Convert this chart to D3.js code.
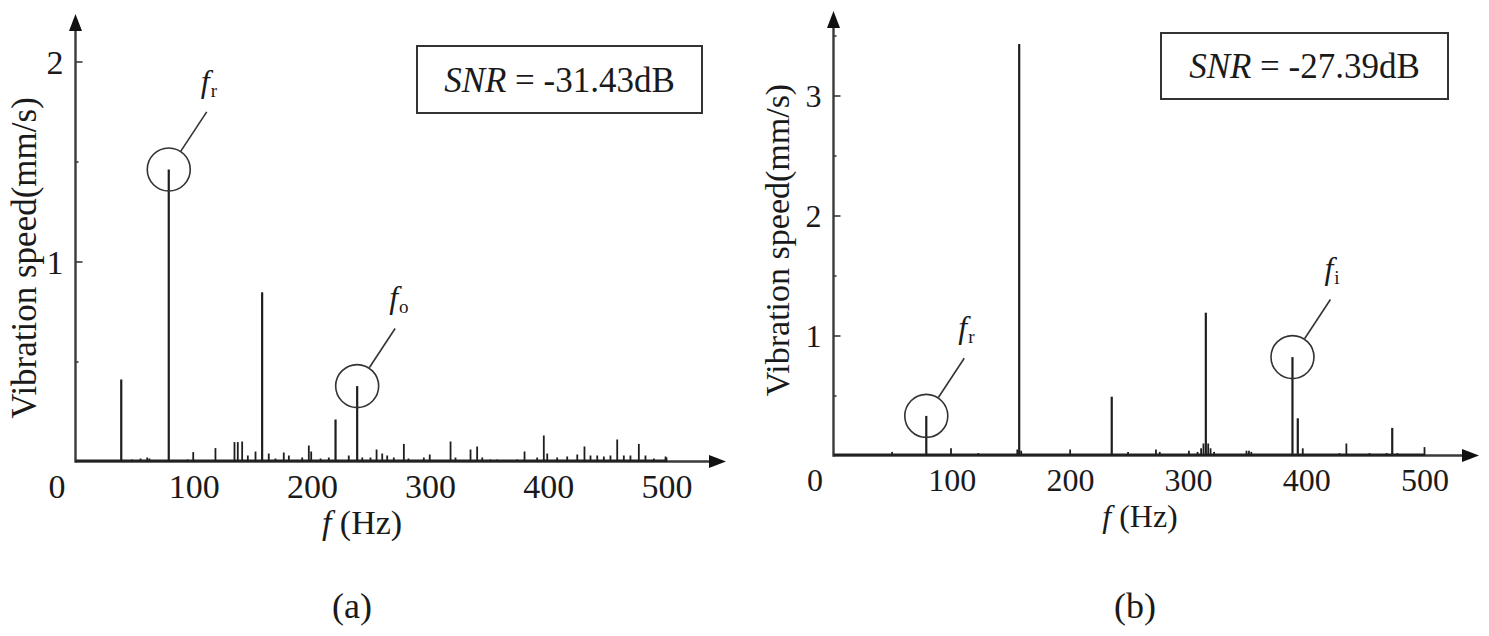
<!DOCTYPE html>
<html>
<head>
<meta charset="utf-8">
<script src="https://cdn.jsdelivr.net/npm/d3@7"></script>
<style>
  html, body { margin: 0; padding: 0; background: #fff; }
  svg { display: block; }
  svg text { font-family: "Liberation Serif", "Times New Roman", Times, "DejaVu Serif", "Noto Serif", serif !important; fill: #1a1a1a; }
</style>
</head>
<body>
<svg id="chart" width="1489" height="636"></svg>
<script>
// ---------------- DATA ----------------
const xTickValues = [0, 100, 200, 300, 400, 500];
const yTicksA = [1, 2];
const yMinorA = [0.5, 1.5];
const yTicksB = [1, 2, 3];
const yMinorB = [0.5, 1.5, 2.5, 3.5];

// panel (a): spectral line frequencies (Hz) and amplitudes (mm/s)
const freqA = [38.7,48,55,60.7,62.6,78.9,94.8,99.6,118.4,134.5,137.3,141,145.8,152.3,157.9,163.5,169.2,176.2,180.5,191.8,197.4,199.4,207.3,214.3,220,231.2,238.3,242.6,249.6,254.7,259.5,263.7,269.3,277.8,281.7,294.7,299.7,317.3,321.5,334.2,339.8,344.1,351.1,356.8,373.7,379.9,390.6,396.2,399.1,407.5,416,424.5,430.6,435.7,441.4,447,452.6,458.3,463.9,469.5,476.6,482.2,489.3,499.2,500];
const ampA  = [0.41,0.01,0.015,0.02,0.015,1.46,0.01,0.047,0.067,0.097,0.097,0.10,0.03,0.05,0.846,0.04,0.015,0.045,0.03,0.02,0.08,0.05,0.015,0.02,0.21,0.03,0.377,0.02,0.02,0.06,0.04,0.03,0.02,0.088,0.015,0.02,0.035,0.10,0.02,0.06,0.075,0.02,0.01,0.01,0.01,0.05,0.02,0.13,0.04,0.02,0.025,0.035,0.075,0.03,0.03,0.025,0.03,0.11,0.03,0.03,0.088,0.03,0.015,0.025,0.02];

// panel (b)
const freqB = [49.6,78.5,99.4,122.5,155.5,157.1,158.8,200.2,235.4,249.2,272.8,276,300.7,308,311,313,315,317,319,322,349.4,351.5,353.5,388.3,392.8,397,428,433.9,453.5,468,472.7,477,500];
const ampB  = [0.03,0.33,0.06,0.02,0.05,3.43,0.04,0.05,0.49,0.03,0.05,0.03,0.04,0.03,0.06,0.1,1.19,0.1,0.06,0.03,0.04,0.04,0.03,0.82,0.31,0.06,0.02,0.10,0.02,0.02,0.23,0.02,0.07];

// annotated characteristic frequencies
const markFreqA = [78.9, 238.3];
const markAmpA  = [1.46, 0.377];
const markSubA  = ["r", "o"];
const markFreqB = [78.5, 388.3];
const markAmpB  = [0.33, 0.82];
const markSubB  = ["r", "i"];

const snrA = "-31.43dB";
const snrB = "-27.39dB";
const yLabel = "Vibration speed(mm/s)";
const panelTags = ["(a)", "(b)"];

// ---------------- DRAW ----------------
const svg = d3.select("#chart");
const AX = "#3a3a3a";
const FONT = '"Liberation Serif", "Times New Roman", Times, "DejaVu Serif", serif';

function panel(cfg) {
  const g = svg.append("g").attr("font-family", FONT);
  const x = d3.scaleLinear().domain([0, 500]).range([cfg.x0, cfg.x0 + 591]);
  const y = d3.scaleLinear().domain([0, cfg.yMax]).range([cfg.y0, cfg.y0 - cfg.yMax * cfg.unit]);

  // axis lines with arrows
  g.append("line").attr("x1", cfg.x0).attr("x2", cfg.xTip - 10)
    .attr("y1", cfg.y0).attr("y2", cfg.y0).attr("stroke", AX).attr("stroke-width", 2.4);
  g.append("line").attr("x1", cfg.x0).attr("x2", cfg.x0)
    .attr("y1", cfg.y0 + 1.2).attr("y2", cfg.yTip + 10).attr("stroke", AX).attr("stroke-width", 2.4);
  g.append("path")
    .attr("d", `M${cfg.xTip},${cfg.y0} L${cfg.xTip - 17},${cfg.y0 - 6.5} L${cfg.xTip - 17},${cfg.y0 + 6.5} Z`)
    .attr("fill", "#111");
  g.append("path")
    .attr("d", `M${cfg.x0},${cfg.yTip} L${cfg.x0 - 6.5},${cfg.yTip + 17} L${cfg.x0 + 6.5},${cfg.yTip + 17} Z`)
    .attr("fill", "#111");

  // y axis (major ticks inside, labels outside)
  const yAx = g.append("g").attr("transform", `translate(${cfg.x0},0)`)
    .call(d3.axisLeft(y).tickValues(cfg.yTicks).tickFormat(d3.format("d"))
      .tickSizeInner(-7).tickSizeOuter(0).tickPadding(12));
  yAx.attr("font-family", FONT);
  yAx.select(".domain").remove();
  yAx.selectAll("line").attr("stroke", AX).attr("stroke-width", 1.6);
  yAx.selectAll("text").attr("font-size", cfg.tickFont).attr("fill", "#1a1a1a").attr("dy", "0.34em");

  const yMin = g.append("g").attr("transform", `translate(${cfg.x0},0)`)
    .call(d3.axisLeft(y).tickValues(cfg.yMinor).tickFormat("").tickSizeInner(-3).tickSizeOuter(0));
  yMin.select(".domain").remove();
  yMin.selectAll("line").attr("stroke", AX).attr("stroke-width", 1.6);

  // x axis labels
  const xAx = g.append("g").attr("transform", `translate(0,${cfg.y0})`)
    .call(d3.axisBottom(x).tickValues(xTickValues).tickFormat(d3.format("d"))
      .tickSize(0).tickPadding(cfg.xPad));
  xAx.attr("font-family", FONT);
  xAx.select(".domain").remove();
  xAx.selectAll("text").attr("font-size", cfg.tickFont).attr("fill", "#1a1a1a")
    .attr("transform", d => d === 0 ? "translate(-19,0)" : null);

  // baseline of spectrum (noise floor band)
  g.append("line").attr("x1", x(0)).attr("x2", x(500))
    .attr("y1", cfg.y0 - 0.8).attr("y2", cfg.y0 - 0.8).attr("stroke", "#222").attr("stroke-width", 2.4);

  // spectral lines
  const data = cfg.freq.map((f, i) => ({ f, a: cfg.amp[i] }));
  g.append("g").selectAll("line").data(data).join("line")
    .attr("x1", d => x(d.f)).attr("x2", d => x(d.f))
    .attr("y1", cfg.y0).attr("y2", d => y(d.a))
    .attr("stroke", "#1e1e1e").attr("stroke-width", d => d.a > 0.15 ? 2.2 : 1.8);

  // markers
  const ux = 0.55, uy = -0.835;
  cfg.mf.forEach((f, i) => {
    const cx = x(f), cy = y(cfg.ma[i]);
    g.append("circle").attr("cx", cx).attr("cy", cy).attr("r", 21.5)
      .attr("fill", "none").attr("stroke", "#333").attr("stroke-width", 1.6);
    g.append("line").attr("x1", cx + ux * 22).attr("y1", cy + uy * 22)
      .attr("x2", cx + ux * 69).attr("y2", cy + uy * 69)
      .attr("stroke", "#333").attr("stroke-width", 1.6);
    const t = g.append("text").attr("x", cx + 32).attr("y", cy - 78).attr("font-size", 32);
    t.append("tspan").attr("font-style", "italic").text("f");
    t.append("tspan").attr("font-size", 19).attr("dy", 5).attr("dx", 1).text(cfg.ms[i]);
  });

  // SNR box
  g.append("rect").attr("x", cfg.box[0]).attr("y", cfg.box[1])
    .attr("width", cfg.box[2]).attr("height", cfg.box[3])
    .attr("fill", "none").attr("stroke", "#333").attr("stroke-width", 2);
  const st = g.append("text").attr("x", cfg.box[0] + cfg.box[2] / 2)
    .attr("y", cfg.box[1] + cfg.box[3] / 2 + 12).attr("text-anchor", "middle").attr("font-size", 35);
  st.append("tspan").attr("font-style", "italic").text("SNR");
  st.append("tspan").text(" = " + cfg.snr);

  // y label
  g.append("text").attr("transform", `translate(${cfg.ylx},${cfg.yly}) rotate(-90)`)
    .attr("text-anchor", "middle").attr("font-size", cfg.ylFont).text(yLabel);

  // x label
  const xl = g.append("text").attr("x", cfg.xlx).attr("y", cfg.xly)
    .attr("text-anchor", "middle").attr("font-size", cfg.tickFont);
  xl.append("tspan").attr("font-style", "italic").text("f");
  xl.append("tspan").text(" (Hz)");

  // panel tag
  g.append("text").attr("x", cfg.tagx).attr("y", 618).attr("text-anchor", "middle")
    .attr("font-size", 36).text(cfg.tag);
}

panel({
  x0: 75.5, xTip: 726, y0: 461.5, yTip: 14, unit: 200, yMax: 2,
  yTicks: yTicksA, yMinor: yMinorA, tickFont: 34, xPad: 12.5,
  freq: freqA, amp: ampA, mf: markFreqA, ma: markAmpA, ms: markSubA,
  box: [417, 46, 285, 67], snr: snrA,
  ylx: 36, yly: 258, ylFont: 35, xlx: 362, xly: 534, tagx: 352, tag: panelTags[0]
});

panel({
  x0: 833.5, xTip: 1479, y0: 455.5, yTip: 11, unit: 120, yMax: 3.5,
  yTicks: yTicksB, yMinor: yMinorB, tickFont: 32, xPad: 13,
  freq: freqB, amp: ampB, mf: markFreqB, ma: markAmpB, ms: markSubB,
  box: [1161, 33, 287, 66], snr: snrB,
  ylx: 789, yly: 240, ylFont: 34, xlx: 1140, xly: 527, tagx: 1135, tag: panelTags[1]
});
</script>
</body>
</html>
